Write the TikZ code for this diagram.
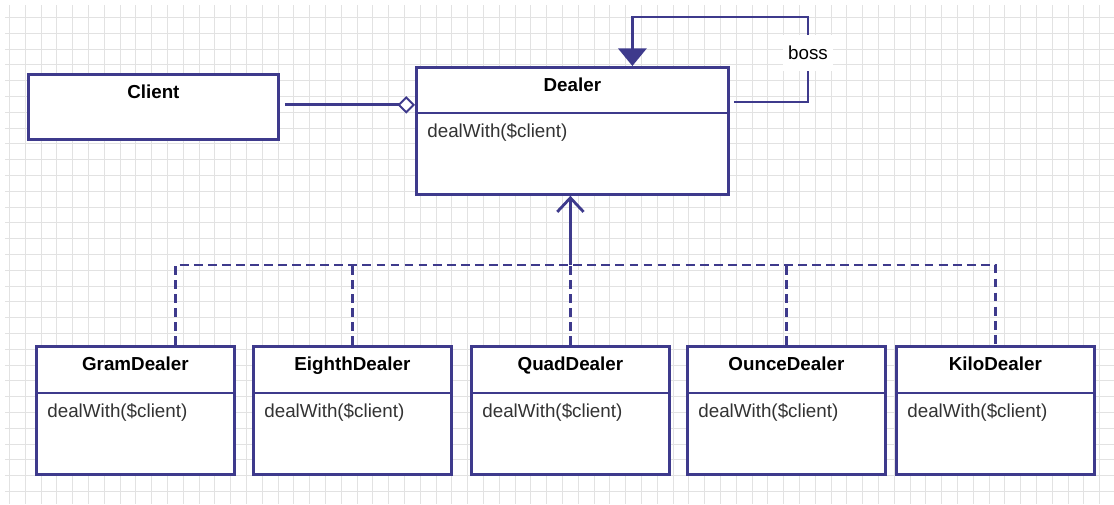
\documentclass[tikz,border=0pt]{standalone}
\usepackage{fontspec}
\setmainfont{Liberation Sans}
\usetikzlibrary{arrows.meta,calc}
\definecolor{umlblue}{RGB}{62,58,140}
\definecolor{gridgray}{RGB}{226,226,226}
\tikzset{
  classbox/.style={draw=umlblue, line width=1.6pt, fill=white, anchor=north west, inner sep=0pt},
  classtitle/.style={font=\fontsize{10.7}{13}\selectfont\bfseries, anchor=base, inner sep=0pt},
  method/.style={font=\fontsize{10.7}{13}\selectfont, text=black!80, anchor=base west, inner sep=0pt},
  link/.style={draw=umlblue, line width=1.6pt},
  realize/.style={link, dash pattern=on 5pt off 3pt},
  bosslabel/.style={font=\fontsize{10.7}{13}\selectfont, fill=white, inner xsep=3pt, minimum height=21pt},
}
\begin{document}
\begin{tikzpicture}[x=0.02cm,y=-0.02cm]
\useasboundingbox (0,0) rectangle (1114,504);
% grid paper in the back
\foreach \gx in {0,...,69} \draw[gridgray, line width=0.6pt] (9.5+15.8*\gx,5) -- (9.5+15.8*\gx,504);
\foreach \gy in {1,...,31} \draw[gridgray, line width=0.6pt] (5,1.7+15.8*\gy) -- (1114,1.7+15.8*\gy);

% client and dealer
\node[classbox, minimum width=5cm, minimum height=1.3cm] (Client) at (27,73) {};
\node[classtitle] (Client-title) at ($(Client.north)+(0,25)$) {Client};
\node[classbox, minimum width=6.24cm, minimum height=2.54cm] (Dealer) at (415,66) {};
\draw[link] ($(Dealer.north west)+(0,47)$) -- ($(Dealer.north east)+(0,47)$);
\node[classtitle] (Dealer-title) at ($(Dealer.north)+(0,25)$) {Dealer};
\node[method] (Dealer-method) at ($(Dealer.north west)+(12,71)$) {dealWith(\$client)};

% the concrete dealers
\foreach \name/\lx in {GramDealer/35, EighthDealer/252, QuadDealer/470, OunceDealer/686, KiloDealer/895} {
  \node[classbox, minimum width=3.96cm, minimum height=2.56cm] (\name) at (\lx,345) {};
  \draw[link] ($(\name.north west)+(0,48)$) -- ($(\name.north east)+(0,48)$);
  \node[classtitle] (\name-title) at ($(\name.north)+(0,25)$) {\name};
  \node[method] (\name-method) at ($(\name.north west)+(12,72)$) {dealWith(\$client)};
}

% aggregation client -> dealer
\draw[link, -{Diamond[fill=white, line width=1.1pt, length=10pt, width=10pt]}] ($(Client.east)+(5,-2)$) -- ($(Client.east -| Dealer.west)+(0,-2)$);

% boss self reference
\coordinate (bossturn) at (808,17);
\draw[link, -{Triangle[length=10pt, width=16pt]}] ($(Dealer.north east)+(4,36)$) -| (bossturn) -| ($(Dealer.north)+(60,0)$);
\node[bosslabel] (boss) at (808,53) {boss};

% realization lines
\coordinate (bus) at (0,265);
\draw[realize] ($(GramDealer.north)+(40,0)$) |- (KiloDealer.north |- bus) -- (KiloDealer.north);
\foreach \n in {EighthDealer, QuadDealer, OunceDealer}
  \draw[realize] (\n.north) -- (\n.north |- bus);
\draw[link, -{Straight Barb[length=8pt, width=15pt]}] (QuadDealer.north |- bus) -- (QuadDealer.north |- Dealer.south);
\end{tikzpicture}
\end{document}
